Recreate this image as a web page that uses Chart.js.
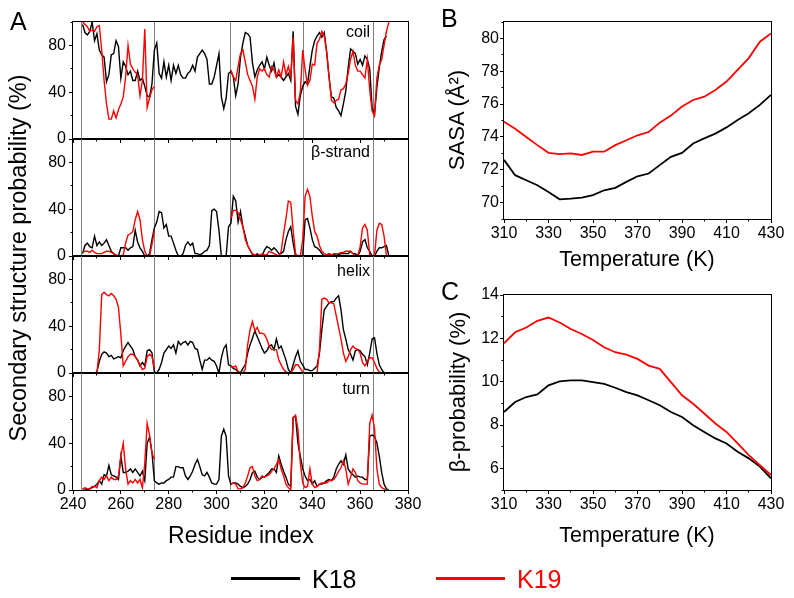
<!DOCTYPE html>
<html>
<head>
<meta charset="utf-8">
<script src="https://cdn.jsdelivr.net/npm/chart.js"></script>
<style>
  body { margin: 0; background: #fff; }
  #fig { position: relative; width: 794px; height: 598px; overflow: hidden;
         font-family: "Liberation Sans", Arial, sans-serif; color: #000; }
  #fig canvas { position: absolute; left: 0; top: 0; }
  .t { position: absolute; line-height: 1; white-space: nowrap; }
  .rot { transform: translate(-50%, -50%) rotate(-90deg); }
  .key { position: absolute; height: 3px; width: 69px; top: 577px; }
</style>
</head>
<body>
<div id="fig">
  <canvas id="cCoil" width="794" height="598"></canvas>
  <canvas id="cStrand" width="794" height="598"></canvas>
  <canvas id="cHelix" width="794" height="598"></canvas>
  <canvas id="cTurn" width="794" height="598"></canvas>
  <canvas id="cSasa" width="794" height="598"></canvas>
  <canvas id="cProb" width="794" height="598"></canvas>

  <div class="t" style="left:10px;top:9px;font-size:25px">A</div>
  <div class="t" style="left:441px;top:6px;font-size:25px">B</div>
  <div class="t" style="left:441px;top:279px;font-size:25px">C</div>

  <div class="t" style="right:424px;top:24px;font-size:16px">coil</div>
  <div class="t" style="right:424px;top:144px;font-size:16px">β-strand</div>
  <div class="t" style="right:424px;top:263px;font-size:16px">helix</div>
  <div class="t" style="right:424px;top:381px;font-size:16px">turn</div>

  <div class="t rot" style="left:19px;top:258px;font-size:23.5px">Secondary structure probability (%)</div>
  <div class="t rot" style="left:457px;top:120px;font-size:22px">SASA (Å²)</div>
  <div class="t rot" style="left:458px;top:392px;font-size:22px">β-probability (%)</div>

  <div class="t" style="left:41px;width:400px;text-align:center;top:524px;font-size:23px">Residue index</div>
  <div class="t" style="left:437px;width:400px;text-align:center;top:249px;font-size:21.5px">Temperature (K)</div>
  <div class="t" style="left:437px;width:400px;text-align:center;top:525px;font-size:21.5px">Temperature (K)</div>

  <div class="key" style="left:231px;background:#000"></div>
  <div class="t" style="left:312px;top:567px;font-size:25px">K18</div>
  <div class="key" style="left:436px;background:#ff0000"></div>
  <div class="t" style="left:517px;top:567px;font-size:25px;color:#ff0000">K19</div>
</div>

<script>
// residue axis (panel A)
const residues = [];
for (let r = 244; r <= 372; r++) residues.push(r);
const residuesR1 = residues.slice(0, 31);   // 244-274 (K19 part 1)
const residuesR34 = residues.slice(62);     // 306-372 (K19 part 2)
const repeatEdges = [243.5, 274, 306, 336.5, 365.5];

const resTicks = [240, 260, 280, 300, 320, 340, 360, 380];
const probTicks = [0, 40, 80];

// coil
const coilK18 = [
  98, 91, 89, 92, 100, 84, 90, 76, 72, 70,
  49, 55, 72, 73, 84, 79, 52, 66, 62, 55,
  58, 50, 50, 58, 50, 52, 45, 37, 36, 47,
  76, 82, 56, 52, 66, 53, 63, 50, 63, 56,
  63, 55, 52, 52, 56, 58, 63, 58, 70, 73,
  76, 73, 68, 47, 47, 53, 63, 73, 36, 26,
  35, 56, 58, 53, 37, 47, 70, 82, 91, 90,
  87, 65, 53, 59, 63, 66, 60, 70, 63, 58,
  65, 53, 55, 53, 50, 53, 56, 50, 92, 28,
  21, 37, 45, 49, 47, 62, 76, 84, 88, 91,
  87, 91, 75, 53, 36, 35, 27, 24, 20, 30,
  41, 61, 77, 75, 73, 64, 68, 63, 71, 68,
  60, 27, 21, 44, 61, 75, 85, 88, null
];
const coilK19a = [
  100, 98, 96, 92, 93, 92, 96, 97, 76, 50,
  30, 17, 17, 24, 18, 25, 30, 36, 53, 80,
  64, 60, 57, 55, 37, 50, 94, 27, 35, 42,
  45
];
const coilK19b = [
  59, 53, 50, 62, 73, 76, 66, 55, 50, 45,
  34, 53, 60, 58, 60, 55, 53, 62, 59, 53,
  59, 53, 66, 55, 62, 53, 87, 33, 30, 40,
  76, 59, 46, 50, 64, 63, 82, 85, 92, 88,
  74, 53, 33, 31, 33, 34, 42, 43, 47, 56,
  68, 75, 63, 58, 58, 55, 52, 68, 42, 24,
  20, 52, 63, 68, 80, 92, 100
];

// beta-strand
const strandK18 = [
  2, 9, 11, 8, 7, 17, 9, 12, 9, 11,
  14, 9, 4, 2, 0, 0, 7, 7, 7, 5,
  7, 8, 22, 12, 7, 4, 0, 0, 2, 14,
  24, 29, 38, 37, 24, 27, 17, 17, 11, 5,
  0, 0, 2, 9, 12, 9, 11, 2, 2, 1,
  2, 4, 5, 9, 39, 40, 38, 22, 0, 0,
  0, 25, 28, 51, 47, 29, 38, 25, 17, 9,
  5, 1, 0, 2, 0, 0, 5, 8, 7, 5,
  7, 5, 2, 2, 4, 14, 21, 25, 11, 0,
  0, 0, 0, 31, 32, 24, 14, 8, 7, 5,
  2, 0, 1, 2, 1, 1, 2, 1, 2, 2,
  2, 2, 4, 2, 2, 0, 4, 12, 14, 7,
  4, 0, 0, 4, 7, 7, 8, 9, 0
];
const strandK19a = [
  3, 4, 4, 3, 5, 3, 2, 2, 2, 3,
  4, 4, 3, 2, 1, 0, 0, 1, 11, 18,
  19, 21, 31, 38, 31, 14, 4, 0, 0, 10,
  21
];
const strandK19b = [
  32, 39, 39, 37, 31, 25, 14, 9, 5, 2,
  1, 0, 1, 2, 1, 1, 4, 3, 2, 1,
  0, 4, 19, 32, 47, 46, 22, 2, 0, 0,
  14, 51, 57, 51, 34, 21, 17, 9, 4, 2,
  1, 1, 1, 2, 2, 2, 3, 3, 4, 4,
  4, 2, 0, 0, 8, 24, 27, 22, 1, 0,
  0, 22, 28, 27, 17, 0, 0
];

// helix
const helixK18 = [
  0, 0, 0, 0, 0, 0, 1, 10, 16, 18,
  17, 14, 15, 12, 13, 14, 13, 19, 23, 26,
  23, 20, 14, 11, 6, 9, 6, 19, 20, 17,
  1, 0, 3, 9, 17, 20, 23, 21, 24, 17,
  27, 24, 26, 27, 24, 27, 26, 21, 20, 11,
  3, 11, 11, 13, 11, 10, 6, 0, 13, 21,
  24, 7, 6, 4, 3, 1, 0, 4, 7, 17,
  24, 30, 36, 31, 26, 21, 17, 19, 23, 24,
  20, 29, 21, 23, 17, 11, 3, 0, 7, 14,
  19, 10, 7, 3, 3, 2, 2, 4, 6, 17,
  37, 54, 57, 60, 61, 61, 64, 66, 54, 37,
  29, 20, 16, 11, 19, 20, 19, 16, 14, 7,
  17, 29, 30, 17, 7, 3, 0, 0, 0
];
const helixK19a = [
  0, 0, 0, 0, 0, 0, 0, 20, 67, 69,
  67, 66, 68, 66, 63, 56, 33, 6, 10, 14,
  16, 16, 14, 11, 7, 3, 4, 14, 16, 14,
  4
];
const helixK19b = [
  6, 5, 6, 1, 1, 0, 3, 24, 37, 44,
  36, 39, 34, 34, 33, 29, 23, 20, 20, 20,
  11, 7, 3, 1, 0, 0, 3, 7, 7, 4,
  1, 0, 0, 0, 0, 0, 0, 20, 63, 64,
  63, 60, 60, 59, 49, 39, 29, 17, 10, 14,
  20, 23, 21, 20, 17, 9, 6, 10, 13, 13,
  9, 4, 1, 0, 0, 0, 0
];

// turn
const turnK18 = [
  1, 1, 0, 1, 2, 3, 5, 8, 5, 13,
  12, 21, 13, 12, 11, 9, 29, 15, 15, 16,
  18, 15, 18, 15, 12, 16, 8, 40, 45, 32,
  8, 6, 5, 6, 6, 8, 9, 11, 11, 20,
  20, 19, 19, 12, 9, 12, 16, 22, 26, 20,
  13, 12, 15, 11, 6, 5, 5, 9, 46, 52,
  46, 12, 5, 6, 6, 5, 3, 2, 3, 5,
  9, 15, 16, 11, 9, 11, 11, 13, 15, 18,
  18, 15, 29, 22, 16, 11, 5, 3, 62, 63,
  40, 29, 18, 12, 8, 9, 5, 8, 3, 5,
  5, 6, 8, 9, 8, 11, 18, 22, 25, 22,
  30, 18, 15, 13, 11, 12, 11, 11, 9, 9,
  46, 47, 46, 40, 29, 15, 5, 1, 0
];
const turnK19a = [
  1, 2, 1, 1, 3, 3, 2, 8, 11, 9,
  12, 8, 11, 9, 9, 12, 29, 40, 18, 5,
  8, 6, 9, 6, 9, 2, 23, 57, 47, 32,
  26
];
const turnK19b = [
  5, 6, 5, 1, 1, 2, 6, 12, 19, 20,
  12, 8, 9, 12, 11, 12, 13, 16, 18, 22,
  26, 18, 12, 5, 2, 0, 62, 64, 52, 23,
  6, 2, 3, 18, 5, 2, 3, 5, 6, 6,
  6, 8, 8, 9, 12, 16, 19, 25, 18, 5,
  11, 18, 15, 8, 6, 5, 5, 5, 57, 64,
  53, 18, 5, 2, 1, 0, 0
];

// panels B and C
const temps = [310, 315, 320, 325, 330, 335, 340, 345, 350, 355, 360, 365, 370,
               375, 380, 385, 390, 395, 400, 405, 410, 415, 420, 425, 430];
const tempTicks = [310, 330, 350, 370, 390, 410, 430];
const sasaTicks = [70, 72, 74, 76, 78, 80];
const betaTicks = [6, 8, 10, 12, 14];

const sasaK18 = [72.6, 71.67, 71.36, 71.06, 70.65, 70.2, 70.24, 70.3, 70.45, 70.75, 70.9, 71.26, 71.6,
                 71.77, 72.28, 72.79, 73.03, 73.6, 73.91, 74.2, 74.58, 75.03, 75.44, 75.95, 76.56];
const sasaK19 = [74.93, 74.5, 74.0, 73.5, 73.03, 72.95, 73.0, 72.9, 73.1, 73.1, 73.5, 73.8, 74.1,
                 74.3, 74.87, 75.3, 75.85, 76.25, 76.45, 76.86, 77.37, 78.09, 78.8, 79.8, 80.3];
const probK18 = [8.6, 9.06, 9.29, 9.41, 9.83, 10.01, 10.06, 10.06, 9.98, 9.9, 9.72, 9.52, 9.37,
                 9.14, 8.91, 8.6, 8.37, 7.99, 7.68, 7.38, 7.15, 6.77, 6.46, 6.08, 5.54];
const probK19 = [11.77, 12.28, 12.5, 12.81, 12.96, 12.73, 12.43, 12.2, 11.92, 11.59, 11.36, 11.25, 11.05,
                 10.74, 10.59, 9.98, 9.37, 8.98, 8.53, 8.07, 7.68, 7.15, 6.61, 6.15, 5.69];

const BLACK = '#000000';
const RED = '#ff0000';
const W = 794, H = 598, Y_W = 40, X_H = 30;

Chart.defaults.font.family = '"Liberation Sans", Arial, sans-serif';
Chart.defaults.font.size = 16;
Chart.defaults.color = '#000';

function pts(xs, ys) {
  return ys.map((v, i) => ({ x: xs[i], y: v }));
}
function k19(a, b) {
  return pts(residuesR1, a).concat([{ x: 290, y: null }], pts(residuesR34, b));
}

// frame, minor ticks and repeat boundaries
const deco = {
  id: 'deco',
  beforeDatasetsDraw(chart, args, o) {
    if (!o.edges) return;
    const { ctx, chartArea: a } = chart;
    const x = chart.scales.x;
    ctx.save();
    ctx.strokeStyle = '#808080';
    ctx.lineWidth = 1;
    o.edges.forEach(v => {
      const px = Math.round(x.getPixelForValue(v) - 0.5) + 0.5;
      ctx.beginPath();
      ctx.moveTo(px, a.top);
      ctx.lineTo(px, a.bottom);
      ctx.stroke();
    });
    ctx.restore();
  },
  afterDraw(chart, args, o) {
    const { ctx, chartArea: a } = chart;
    const x = chart.scales.x, y = chart.scales.y;
    const len = 2.5;
    ctx.save();
    ctx.strokeStyle = '#000';
    ctx.lineWidth = 1;
    ctx.strokeRect(a.left - 0.5, a.top - 0.5, a.right - a.left + 1, a.bottom - a.top + 1);
    ctx.beginPath();
    for (let v = x.min; v <= x.max + 1e-6; v += o.minorX) {
      const px = Math.round(x.getPixelForValue(v) - 0.5) + 0.5;
      ctx.moveTo(px, a.bottom);
      ctx.lineTo(px, a.bottom + len);
    }
    for (let v = y.min; v <= y.max + 1e-6; v += o.minorY) {
      const py = Math.round(y.getPixelForValue(v) - 0.5) + 0.5;
      ctx.moveTo(a.left, py);
      ctx.lineTo(a.left - len, py);
    }
    ctx.stroke();
    ctx.restore();
  }
};

function panel(id, area, xs, ys, datasets, extra) {
  return new Chart(document.getElementById(id), {
    type: 'line',
    data: { datasets: datasets },
    options: {
      responsive: false,
      animation: false,
      events: [],
      layout: {
        padding: { left: area[0] - Y_W, top: area[1], right: W - area[2], bottom: H - area[3] - X_H }
      },
      elements: { point: { radius: 0 }, line: { tension: 0 } },
      plugins: {
        legend: { display: false },
        tooltip: { enabled: false },
        deco: { edges: extra.edges, minorX: xs.minor, minorY: ys.minor }
      },
      scales: {
        x: {
          type: 'linear', min: xs.min, max: xs.max,
          afterBuildTicks: s => { s.ticks = xs.ticks.map(v => ({ value: v })); },
          afterFit: s => { s.height = X_H; },
          border: { display: false },
          grid: { drawOnChartArea: false, drawTicks: true, tickLength: 4, tickColor: '#000', tickWidth: 1 },
          ticks: { display: xs.labels, padding: 1, maxRotation: 0, autoSkip: false, color: '#000' }
        },
        y: {
          type: 'linear', min: ys.min, max: ys.max,
          afterBuildTicks: s => { s.ticks = ys.ticks.map(v => ({ value: v })); },
          afterFit: s => { s.width = Y_W; },
          border: { display: false },
          grid: { drawOnChartArea: false, drawTicks: true, tickLength: 4, tickColor: '#000', tickWidth: 1 },
          ticks: { padding: ys.pad, autoSkip: false, color: '#000' }
        }
      }
    },
    plugins: [deco]
  });
}

function pairA(k18, k19a, k19b) {
  return [
    { data: k19(k19a, k19b), borderColor: RED, borderWidth: 1.4 },
    { data: pts(residues, k18), borderColor: BLACK, borderWidth: 1.4 }
  ];
}

const xRes = { min: 240, max: 380, ticks: resTicks, minor: 10, labels: false };
const yProb = { min: 0, max: 100, ticks: probTicks, minor: 20, pad: 3 };
const aExtra = { edges: repeatEdges };

panel('cCoil', [73, 22, 408, 139], xRes, yProb, pairA(coilK18, coilK19a, coilK19b), aExtra);
panel('cStrand', [73, 139, 408, 256], xRes, yProb, pairA(strandK18, strandK19a, strandK19b), aExtra);
panel('cHelix', [73, 256, 408, 373], xRes, yProb, pairA(helixK18, helixK19a, helixK19b), aExtra);
panel('cTurn', [73, 373, 408, 490], Object.assign({}, xRes, { labels: true }), yProb,
      pairA(turnK18, turnK19a, turnK19b), aExtra);

const xTemp = { min: 310, max: 430, ticks: tempTicks, minor: 10, labels: true };

panel('cSasa', [504, 22, 771, 219], xTemp, { min: 69, max: 81, ticks: sasaTicks, minor: 1, pad: 1 }, [
  { data: pts(temps, sasaK19), borderColor: RED, borderWidth: 1.8 },
  { data: pts(temps, sasaK18), borderColor: BLACK, borderWidth: 1.8 }
], {});

panel('cProb', [504, 295, 771, 490], xTemp, { min: 5, max: 14, ticks: betaTicks, minor: 1, pad: 1 }, [
  { data: pts(temps, probK19), borderColor: RED, borderWidth: 1.8 },
  { data: pts(temps, probK18), borderColor: BLACK, borderWidth: 1.8 }
], {});
</script>
</body>
</html>
